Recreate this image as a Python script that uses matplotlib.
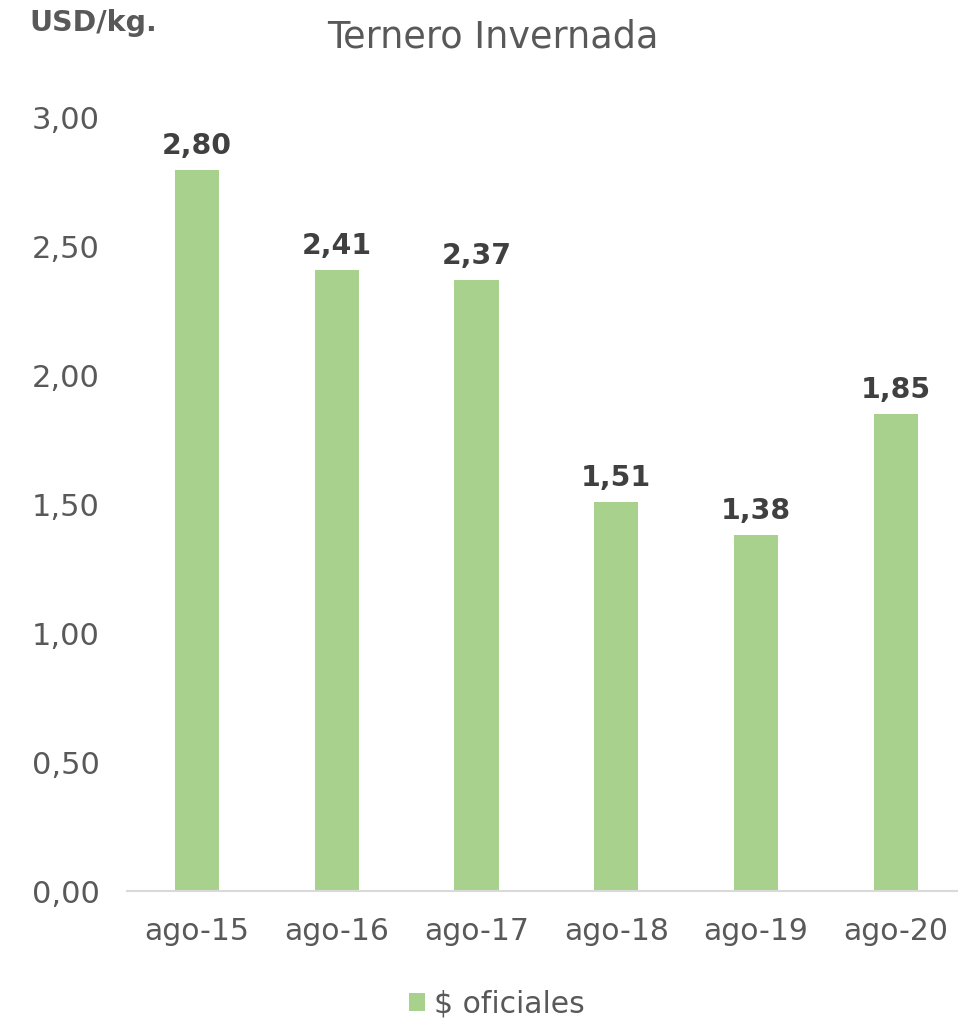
import matplotlib
matplotlib.use("Agg")
import matplotlib.pyplot as plt
from matplotlib.patches import Patch

categories = ["ago-15", "ago-16", "ago-17", "ago-18", "ago-19", "ago-20"]
values = [2.80, 2.41, 2.37, 1.51, 1.38, 1.85]
yticks = [0.0, 0.5, 1.0, 1.5, 2.0, 2.5, 3.0]
series_name = "$ oficiales"
title = "Ternero Invernada"
unit_label = "USD/kg."

plt.rcParams['font.family'] = ['DejaVu Sans']

W, H = 958, 1021
fig = plt.figure(figsize=(W / 100, H / 100), dpi=100)
left, right, bottom, top = 127, 958, 891, 118
ax = fig.add_axes([left / W, (H - bottom) / H, (right - left) / W, (bottom - top) / H])

bar_color = "#a9d18e"
x = list(range(len(categories)))
ax.bar(x, values, width=0.315, color=bar_color, zorder=2)
ax.set_xlim(-0.5, -0.5 + (right - left) / 139.8)
ax.set_ylim(0, 3.0)

for xi, v in zip(x, values):
    ax.annotate(f"{v:.2f}".replace(".", ","), (xi, v), xytext=(0, 11.5), textcoords="offset points",
                ha="center", va="baseline", fontsize=20.4, fontweight="bold", color="#404040")

ax.set_yticks(yticks)
ax.set_yticklabels([f"{t:.2f}".replace(".", ",") for t in yticks])
ax.set_xticks(x)
ax.set_xticklabels(categories)
ax.tick_params(axis="y", length=0, pad=19.5, labelsize=22, labelcolor="#595959")
ax.tick_params(axis="x", length=0, pad=19, labelsize=21.5, labelcolor="#595959")

for s in ["left", "right", "top"]:
    ax.spines[s].set_visible(False)
ax.spines["bottom"].set_color("#d9d9d9")
ax.spines["bottom"].set_linewidth(1.5)

fig.text(493 / W, 1 - 37 / H, title, ha="center", va="center", fontsize=26.4, color="#595959")
fig.text(29 / W, 1 - 23 / H, unit_label, ha="left", va="center", fontsize=20.5, fontweight="bold", color="#595959")

handle = Patch(facecolor=bar_color, edgecolor="none")
fig.legend([handle], [series_name], loc="center", bbox_to_anchor=(497 / W, 1 - 1004 / H),
           frameon=False, fontsize=21.5, handlelength=0.55, handleheight=0.55, handletextpad=0.3,
           labelcolor="#595959", borderpad=0, borderaxespad=0)

fig.savefig("out.png", dpi=100)
